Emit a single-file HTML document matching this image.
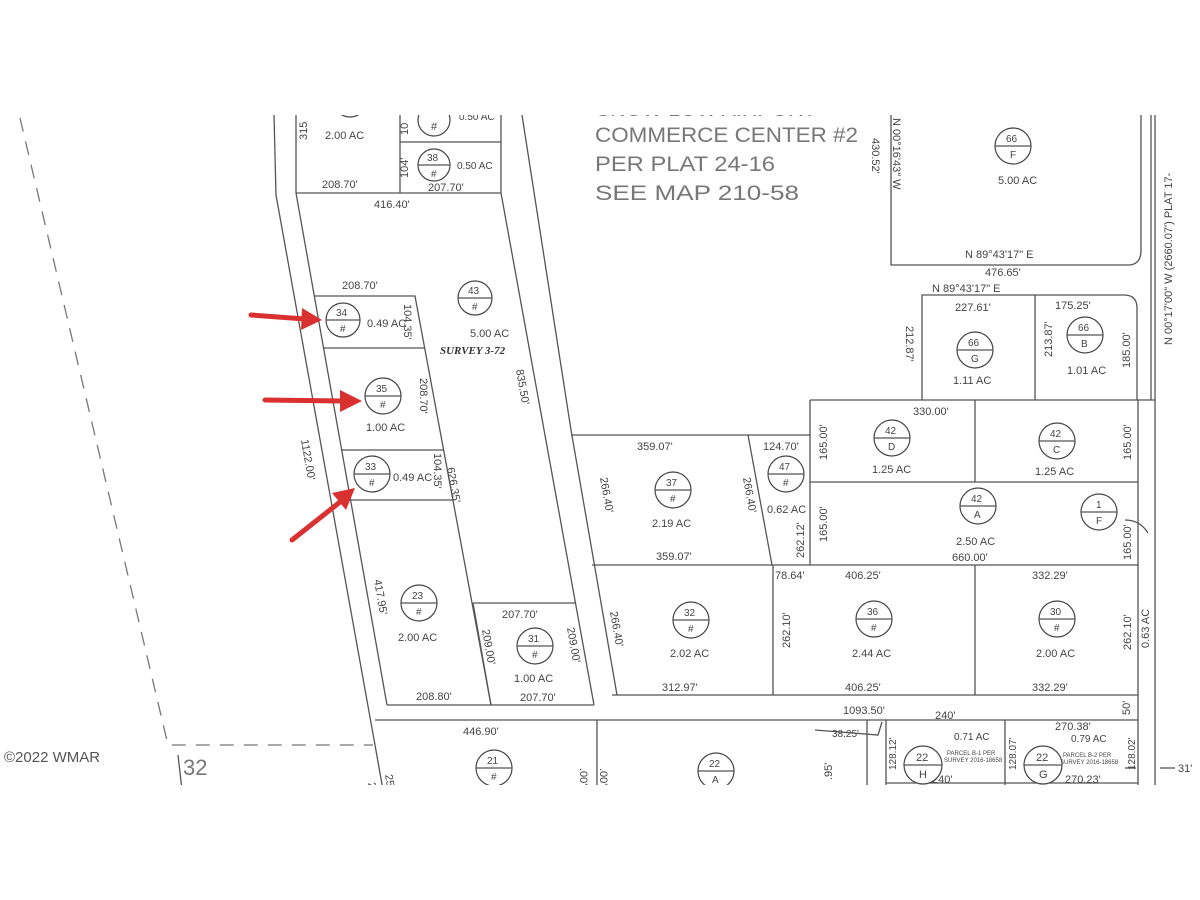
<!DOCTYPE html>
<html><head><meta charset="utf-8"><style>
html,body{margin:0;padding:0;background:#fff;width:1200px;height:900px;overflow:hidden}
svg{display:block}
text{font-family:"Liberation Sans",sans-serif;fill:#444;font-size:11px}
.l{stroke:#555;stroke-width:1.3;fill:none}
.c{stroke:#444;stroke-width:1.2;fill:#fff}
</style></head><body>
<svg width="1200" height="900" viewBox="0 0 1200 900" xmlns="http://www.w3.org/2000/svg">
<defs><clipPath id="cp"><rect x="0" y="115" width="1200" height="670"/></clipPath></defs>
<g clip-path="url(#cp)">
<path d="M20,118 L168,745 L373,745" class="l" stroke-dasharray="14,10" style="stroke:#777"/>
<path d="M178,755 L182,790" class="l"/>
<text x="183" y="775" style="font-size:22px;fill:#777">32</text>
<path d="M274,115 L276,195 L375,745 L383,790" class="l"/>
<path d="M296,115 L296,193 L387,705" class="l"/>
<path d="M296,193 L501,193" class="l"/>
<path d="M400,115 L400,193 M400,142 L501,142" class="l"/>
<path d="M501,115 L501,193 L594,705" class="l"/>
<path d="M522,115 L571,430 L617,695" class="l"/>
<path d="M314,296 L415,296 L491,705" class="l"/>
<path d="M323,348 L425,348 M341,450 L444,450 M350,500 L453,500" class="l"/>
<path d="M387,705 L594,705 M473,603 L575,603 M473,603 L491,705" class="l"/>
<path d="M571,435 L810,435 M592,565 L1138,565 M612,695 L1138,695" class="l"/>
<path d="M748,435 L772,565 M810,400 L810,565 M773,565 L773,695 M975,565 L975,695 M975,400 L975,482" class="l"/>
<path d="M810,400 L1155,400 M810,482 L1138,482 M1138,400 L1138,785" class="l"/>
<path d="M375,720 L1138,720 M597,720 L597,790" class="l"/>
<path d="M891,115 L891,265 L1128,265 Q1141,265 1141,250 L1141,115" class="l"/>
<path d="M1151,115 L1151,400 M1155,115 L1155,790" class="l"/>
<path d="M922,400 L922,295 L1124,295 Q1137,295 1137,308 L1137,400 M1035,295 L1035,400" class="l"/>
<path d="M886,720 L886,785 M1005,720 L1005,785 M886,783 L1138,783 M867,720 L867,790 M815,730 L878,735 L882,722" class="l"/>
<path d="M1125,520 Q1140,520 1148,533" class="l"/>
<circle cx="350" cy="100" r="17" class="c"/>
<circle cx="434" cy="120" r="16" class="c"/><text x="431" y="130">#</text>
<text x="459" y="120" style="font-size:10px">0.50 AC</text>
<text x="307" y="140" transform="rotate(-90 307 140)">315</text>
<text x="408" y="135" transform="rotate(-90 408 135)">10</text>
<text x="325" y="139">2.00 AC</text>
<text x="408" y="178" transform="rotate(-90 408 178)">104'</text>
<text x="457" y="169" style="font-size:10px">0.50 AC</text>
<text x="322" y="188">208.70'</text>
<text x="428" y="191">207.70'</text>
<text x="374" y="208">416.40'</text>
<text x="342" y="289">208.70'</text>
<text x="470" y="337">5.00 AC</text>
<text x="440" y="354" style="font-family:'Liberation Serif',serif;font-style:italic;font-weight:bold;font-size:11px;fill:#333">SURVEY 3-72</text>
<text x="367" y="327">0.49 AC</text>
<text x="404" y="304" transform="rotate(90 404 304)">104.35'</text>
<text x="366" y="431">1.00 AC</text>
<text x="420" y="378" transform="rotate(90 420 378)">208.70'</text>
<text x="393" y="481">0.49 AC</text>
<text x="434" y="453" transform="rotate(90 434 453)">104.35'</text>
<text x="447" y="468" transform="rotate(80 447 468)">626.35'</text>
<text x="516" y="370" transform="rotate(80 516 370)">835.50'</text>
<text x="301" y="440" transform="rotate(80 301 440)">1122.00'</text>
<text x="374" y="580" transform="rotate(80 374 580)">417.95'</text>
<text x="398" y="641">2.00 AC</text>
<text x="416" y="700">208.80'</text>
<text x="502" y="618">207.70'</text>
<text x="482" y="630" transform="rotate(80 482 630)">209.00'</text>
<text x="567" y="628" transform="rotate(80 567 628)">209.00'</text>
<text x="514" y="682">1.00 AC</text>
<text x="520" y="701">207.70'</text>
<text x="463" y="735">446.90'</text>
<text x="385" y="775" transform="rotate(80 385 775)">254</text>
<text x="368" y="783" transform="rotate(80 368 783)">20</text>
<text x="580" y="768" transform="rotate(90 580 768)">.00'</text>
<text x="600" y="768" transform="rotate(90 600 768)">.00'</text>
<text x="832" y="780" transform="rotate(-90 832 780)">.95'</text>
<text x="596" y="116" style="font-size:21px;fill:#777" textLength="220">SNOW LOW AIRPORT</text>
<text x="595" y="142" style="font-size:21px;fill:#777" textLength="263" lengthAdjust="spacingAndGlyphs">COMMERCE CENTER #2</text>
<text x="595" y="171" style="font-size:21px;fill:#777" textLength="180" lengthAdjust="spacingAndGlyphs">PER PLAT 24-16</text>
<text x="595" y="200" style="font-size:21px;fill:#777" textLength="204" lengthAdjust="spacingAndGlyphs">SEE MAP 210-58</text>
<text x="872" y="138" transform="rotate(90 872 138)">430.52'</text>
<text x="893" y="118" transform="rotate(90 893 118)">N 00°16'43" W</text>
<text x="998" y="184">5.00 AC</text>
<text x="965" y="258">N 89°43'17" E</text>
<text x="985" y="276">476.65'</text>
<text x="932" y="292">N 89°43'17" E</text>
<text x="955" y="311">227.61'</text>
<text x="1055" y="309">175.25'</text>
<text x="906" y="326" transform="rotate(90 906 326)">212.87'</text>
<text x="1052" y="357" transform="rotate(-90 1052 357)">213.87'</text>
<text x="1130" y="368" transform="rotate(-90 1130 368)">185.00'</text>
<text x="953" y="384">1.11 AC</text>
<text x="1067" y="374">1.01 AC</text>
<text x="1172" y="345" transform="rotate(-90 1172 345)">N 00°17'00" W (2660.07') PLAT 17-</text>
<text x="913" y="415">330.00'</text>
<text x="827" y="460" transform="rotate(-90 827 460)">165.00'</text>
<text x="1131" y="460" transform="rotate(-90 1131 460)">165.00'</text>
<text x="872" y="473">1.25 AC</text>
<text x="1035" y="475">1.25 AC</text>
<text x="637" y="450">359.07'</text>
<text x="763" y="450">124.70'</text>
<text x="743" y="478" transform="rotate(80 743 478)">266.40'</text>
<text x="600" y="478" transform="rotate(80 600 478)">266.40'</text>
<text x="652" y="527">2.19 AC</text>
<text x="767" y="513">0.62 AC</text>
<text x="804" y="558" transform="rotate(-90 804 558)">262.12'</text>
<text x="827" y="542" transform="rotate(-90 827 542)">165.00'</text>
<text x="956" y="545">2.50 AC</text>
<text x="952" y="561">660.00'</text>
<text x="1131" y="560" transform="rotate(-90 1131 560)">165.00'</text>
<text x="656" y="560">359.07'</text>
<text x="775" y="579">78.64'</text>
<text x="845" y="579">406.25'</text>
<text x="1032" y="579">332.29'</text>
<text x="610" y="612" transform="rotate(80 610 612)">266.40'</text>
<text x="790" y="648" transform="rotate(-90 790 648)">262.10'</text>
<text x="1131" y="650" transform="rotate(-90 1131 650)">262.10'</text>
<text x="1149" y="648" transform="rotate(-90 1149 648)">0.63 AC</text>
<text x="670" y="657">2.02 AC</text>
<text x="852" y="657">2.44 AC</text>
<text x="1036" y="657">2.00 AC</text>
<text x="662" y="691">312.97'</text>
<text x="845" y="691">406.25'</text>
<text x="1032" y="691">332.29'</text>
<text x="1130" y="715" transform="rotate(-90 1130 715)">50'</text>
<text x="843" y="714">1093.50'</text>
<text x="935" y="719">240'</text>
<text x="832" y="737" style="font-size:10px">38.25'</text>
<text x="896" y="770" transform="rotate(-90 896 770)" style="font-size:10px">128.12'</text>
<text x="1016" y="770" transform="rotate(-90 1016 770)" style="font-size:10px">128.07'</text>
<text x="1135" y="770" transform="rotate(-90 1135 770)" style="font-size:10px">128.02'</text>
<text x="954" y="740" style="font-size:10px">0.71 AC</text>
<text x="1071" y="742" style="font-size:10px">0.79 AC</text>
<text x="947" y="755" style="font-size:6px">PARCEL B-1 PER</text>
<text x="944" y="762" style="font-size:6px">SURVEY 2016-18658</text>
<text x="1063" y="757" style="font-size:6px">PARCEL B-2 PER</text>
<text x="1060" y="764" style="font-size:6px">SURVEY 2016-18658</text>
<text x="1055" y="730">270.38'</text>
<text x="932" y="783">240'</text>
<text x="1065" y="783">270.23'</text>
<path d="M1160,768 L1175,768" class="l"/><text x="1178" y="772">31'</text>
<path d="M1125,768 L1136,768" class="l"/>
</g>
<g>
<g transform="translate(475,298)"><circle r="17" class="c"/><line x1="-17" x2="17" class="l"/><text x="-7" y="-4" style="font-size:10px">43</text><text x="-3" y="12" style="font-size:10px">#</text></g>
<g transform="translate(343,320)"><circle r="17" class="c"/><line x1="-17" x2="17" class="l"/><text x="-7" y="-4" style="font-size:10px">34</text><text x="-3" y="12" style="font-size:10px">#</text></g>
<g transform="translate(383,396)"><circle r="18" class="c"/><line x1="-18" x2="18" class="l"/><text x="-7" y="-4" style="font-size:10px">35</text><text x="-3" y="12" style="font-size:10px">#</text></g>
<g transform="translate(372,474)"><circle r="18" class="c"/><line x1="-18" x2="18" class="l"/><text x="-7" y="-4" style="font-size:10px">33</text><text x="-3" y="12" style="font-size:10px">#</text></g>
<g transform="translate(419,603)"><circle r="18" class="c"/><line x1="-18" x2="18" class="l"/><text x="-7" y="-4" style="font-size:10px">23</text><text x="-3" y="12" style="font-size:10px">#</text></g>
<g transform="translate(535,646)"><circle r="18" class="c"/><line x1="-18" x2="18" class="l"/><text x="-7" y="-4" style="font-size:10px">31</text><text x="-3" y="12" style="font-size:10px">#</text></g>
<g transform="translate(673,490)"><circle r="18" class="c"/><line x1="-18" x2="18" class="l"/><text x="-7" y="-4" style="font-size:10px">37</text><text x="-3" y="12" style="font-size:10px">#</text></g>
<g transform="translate(691,620)"><circle r="18" class="c"/><line x1="-18" x2="18" class="l"/><text x="-7" y="-4" style="font-size:10px">32</text><text x="-3" y="12" style="font-size:10px">#</text></g>
<g transform="translate(786,474)"><circle r="18" class="c"/><line x1="-18" x2="18" class="l"/><text x="-7" y="-4" style="font-size:10px">47</text><text x="-3" y="12" style="font-size:10px">#</text></g>
<g transform="translate(892,438)"><circle r="18" class="c"/><line x1="-18" x2="18" class="l"/><text x="-7" y="-4" style="font-size:10px">42</text><text x="-4" y="12" style="font-size:10px">D</text></g>
<g transform="translate(1057,441)"><circle r="18" class="c"/><line x1="-18" x2="18" class="l"/><text x="-7" y="-4" style="font-size:10px">42</text><text x="-4" y="12" style="font-size:10px">C</text></g>
<g transform="translate(978,506)"><circle r="18" class="c"/><line x1="-18" x2="18" class="l"/><text x="-7" y="-4" style="font-size:10px">42</text><text x="-4" y="12" style="font-size:10px">A</text></g>
<g transform="translate(1099,512)"><circle r="18" class="c"/><line x1="-18" x2="18" class="l"/><text x="-3" y="-4" style="font-size:10px">1</text><text x="-3" y="12" style="font-size:10px">F</text></g>
<g transform="translate(874,619)"><circle r="18" class="c"/><line x1="-18" x2="18" class="l"/><text x="-7" y="-4" style="font-size:10px">36</text><text x="-3" y="12" style="font-size:10px">#</text></g>
<g transform="translate(1057,619)"><circle r="18" class="c"/><line x1="-18" x2="18" class="l"/><text x="-7" y="-4" style="font-size:10px">30</text><text x="-3" y="12" style="font-size:10px">#</text></g>
<g transform="translate(1013,146)"><circle r="18" class="c"/><line x1="-18" x2="18" class="l"/><text x="-7" y="-4" style="font-size:10px">66</text><text x="-3" y="12" style="font-size:10px">F</text></g>
<g transform="translate(975,350)"><circle r="18" class="c"/><line x1="-18" x2="18" class="l"/><text x="-7" y="-4" style="font-size:10px">66</text><text x="-4" y="12" style="font-size:10px">G</text></g>
<g transform="translate(1085,335)"><circle r="18" class="c"/><line x1="-18" x2="18" class="l"/><text x="-7" y="-4" style="font-size:10px">66</text><text x="-4" y="12" style="font-size:10px">B</text></g>
<g transform="translate(434,165)"><circle r="16" class="c"/><line x1="-16" x2="16" class="l"/><text x="-7" y="-4" style="font-size:10px">38</text><text x="-3" y="12" style="font-size:10px">#</text></g>
<g transform="translate(923,765)"><circle r="19" class="c"/><line x1="-19" x2="19" class="l"/><text x="-7" y="-4" style="font-size:11px">22</text><text x="-4" y="13" style="font-size:11px">H</text></g>
<g transform="translate(1043,765)"><circle r="19" class="c"/><line x1="-19" x2="19" class="l"/><text x="-7" y="-4" style="font-size:11px">22</text><text x="-4" y="13" style="font-size:11px">G</text></g>
</g>
<g clip-path="url(#cp)">
<g transform="translate(494,768)"><circle r="18" class="c"/><line x1="-18" x2="18" class="l"/><text x="-7" y="-4" style="font-size:10px">21</text><text x="-3" y="12" style="font-size:10px">#</text></g>
<g transform="translate(716,771)"><circle r="18" class="c"/><line x1="-18" x2="18" class="l"/><text x="-7" y="-4" style="font-size:10px">22</text><text x="-4" y="12" style="font-size:10px">A</text></g>
</g>
<g stroke="#d9312f" stroke-width="5" stroke-linecap="round" fill="none">
<line x1="251" y1="315" x2="305" y2="319"/>
<line x1="265" y1="400" x2="343" y2="401"/>
<line x1="292" y1="540" x2="340" y2="502"/>
</g>
<g fill="#d9312f">
<polygon points="302,308 322,320 301,330"/>
<polygon points="340,390 362,401 340,412"/>
<polygon points="332,493 355,488 346,510"/>
</g>
<text x="4" y="762" style="font-size:15px;fill:#555">©2022 WMAR</text>
</svg>
</body></html>
